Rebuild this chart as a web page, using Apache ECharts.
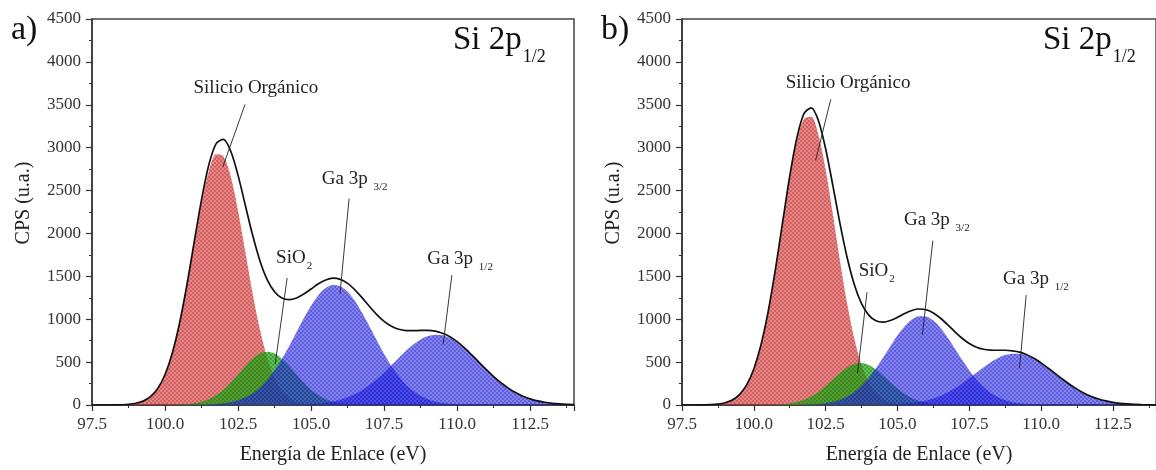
<!DOCTYPE html>
<html>
<head>
<meta charset="utf-8">
<script src="https://cdn.jsdelivr.net/npm/echarts@6/dist/echarts.min.js"></script>
<style>
  html, body { margin: 0; padding: 0; background: #ffffff; }
  #chart { width: 1156px; height: 470px; }
</style>
</head>
<body>
<div id="chart"></div>
<script>
// Binding energy grid (eV) shared by every curve
const energia = [97.5, 97.75, 98.0, 98.25, 98.5, 98.75, 99.0, 99.25, 99.5, 99.75,
  100.0, 100.25, 100.5, 100.75, 101.0, 101.25, 101.5, 101.75, 102.0, 102.25,
  102.5, 102.75, 103.0, 103.25, 103.5, 103.75, 104.0, 104.25, 104.5, 104.75,
  105.0, 105.25, 105.5, 105.75, 106.0, 106.25, 106.5, 106.75, 107.0, 107.25,
  107.5, 107.75, 108.0, 108.25, 108.5, 108.75, 109.0, 109.25, 109.5, 109.75,
  110.0, 110.25, 110.5, 110.75, 111.0, 111.25, 111.5, 111.75, 112.0, 112.25,
  112.5, 112.75, 113.0, 113.25, 113.5, 113.75, 114.0];

// Panel a) fitted components (CPS)
const a_organico = [0, 0, 0, 1, 3, 8, 20, 45, 97, 193,
  355, 605, 955, 1393, 1882, 2354, 2726, 2922, 2899, 2663,
  2265, 1783, 1300, 877, 547, 317, 169, 84, 39, 16,
  6, 2, 1, 0, 0, 0, 0, 0, 0, 0,
  0, 0, 0, 0, 0, 0, 0, 0, 0, 0,
  0, 0, 0, 0, 0, 0, 0, 0, 0, 0,
  0, 0, 0, 0, 0, 0, 0];
const a_sio2 = [0, 0, 0, 0, 0, 0, 0, 0, 0, 0,
  1, 2, 4, 9, 19, 38, 68, 114, 178, 261,
  356, 454, 540, 599, 620, 599, 540, 454, 356, 261,
  178, 114, 68, 38, 19, 9, 4, 2, 1, 0,
  0, 0, 0, 0, 0, 0, 0, 0, 0, 0,
  0, 0, 0, 0, 0, 0, 0, 0, 0, 0,
  0, 0, 0, 0, 0, 0, 0];
const a_ga32 = [0, 0, 0, 0, 0, 0, 0, 0, 0, 0,
  0, 0, 0, 0, 2, 3, 6, 11, 20, 34,
  56, 89, 138, 204, 293, 404, 537, 688, 849, 1010,
  1158, 1280, 1363, 1399, 1383, 1319, 1211, 1072, 914, 752,
  595, 455, 334, 237, 162, 107, 68, 41, 24, 14,
  8, 4, 2, 1, 0, 0, 0, 0, 0, 0,
  0, 0, 0, 0, 0, 0, 0];
const a_ga12 = [0, 0, 0, 0, 0, 0, 0, 0, 0, 0,
  0, 0, 0, 0, 0, 0, 0, 0, 0, 0,
  0, 0, 0, 0, 0, 1, 1, 2, 3, 6,
  10, 17, 26, 41, 62, 90, 127, 175, 233, 302,
  380, 463, 549, 631, 704, 763, 803, 820, 812, 781,
  730, 662, 582, 497, 412, 332, 259, 197, 145, 103,
  72, 48, 32, 20, 12, 7, 4];
const a_envolvente = [0, 0, 0, 1, 3, 8, 20, 45, 97, 193,
  356, 607, 959, 1402, 1903, 2395, 2800, 3047, 3097, 2958,
  2677, 2326, 1978, 1680, 1460, 1321, 1247, 1228, 1247, 1293,
  1352, 1413, 1458, 1478, 1464, 1418, 1342, 1249, 1148, 1054,
  975, 918, 883, 868, 866, 870, 871, 861, 836, 795,
  738, 666, 584, 498, 412, 332, 259, 197, 145, 103,
  72, 48, 32, 20, 12, 7, 4];

// Panel b) fitted components (CPS)
const b_organico = [0, 0, 1, 2, 4, 11, 26, 58, 121, 234,
  419, 701, 1089, 1574, 2116, 2648, 3081, 3336, 3360, 3149,
  2745, 2226, 1680, 1179, 770, 467, 264, 139, 68, 31,
  13, 5, 2, 1, 0, 0, 0, 0, 0, 0,
  0, 0, 0, 0, 0, 0, 0, 0, 0, 0,
  0, 0, 0, 0, 0, 0, 0, 0, 0, 0,
  0, 0, 0, 0, 0, 0, 0];
const b_sio2 = [0, 0, 0, 0, 0, 0, 0, 0, 0, 0,
  0, 1, 2, 4, 9, 18, 34, 60, 99, 153,
  221, 297, 373, 438, 479, 489, 466, 414, 344, 266,
  192, 129, 81, 48, 26, 13, 6, 3, 1, 0,
  0, 0, 0, 0, 0, 0, 0, 0, 0, 0,
  0, 0, 0, 0, 0, 0, 0, 0, 0, 0,
  0, 0, 0, 0, 0, 0, 0];
const b_ga32 = [0, 0, 0, 0, 0, 0, 0, 0, 0, 0,
  0, 0, 0, 0, 0, 1, 1, 3, 6, 12,
  21, 37, 62, 99, 153, 225, 317, 428, 552, 683,
  809, 918, 997, 1036, 1032, 984, 898, 785, 657, 527,
  404, 297, 209, 141, 91, 56, 33, 19, 10, 5,
  3, 1, 1, 0, 0, 0, 0, 0, 0, 0,
  0, 0, 0, 0, 0, 0, 0];
const b_ga12 = [0, 0, 0, 0, 0, 0, 0, 0, 0, 0,
  0, 0, 0, 0, 0, 0, 0, 0, 0, 0,
  0, 0, 0, 0, 0, 0, 1, 1, 3, 5,
  8, 14, 22, 34, 52, 76, 107, 147, 195, 251,
  312, 377, 441, 499, 547, 582, 598, 597, 576, 539,
  488, 428, 364, 300, 239, 185, 138, 100, 70, 48,
  31, 20, 12, 7, 4, 2, 1];
const b_envolvente = [0, 0, 1, 2, 4, 11, 26, 58, 121, 234,
  419, 702, 1091, 1578, 2125, 2667, 3116, 3399, 3465, 3314,
  2987, 2560, 2115, 1716, 1402, 1181, 1048, 982, 967, 985,
  1022, 1066, 1102, 1119, 1110, 1073, 1011, 935, 853, 778,
  716, 674, 650, 640, 638, 638, 631, 616, 586, 544,
  491, 429, 365, 300, 239, 185, 138, 100, 70, 48,
  31, 20, 12, 7, 4, 2, 1];

// Axis ranges
const xMin = 97.5, xMax = 114, xPaso = 2.5;
const yMin = 0, yMax = 4500, yPaso = 500;

// Peak labels with their arrows (data coordinates)
const etiquetas_a = [
  { texto: 'Silicio Orgánico', en: [103.11, 3680], desde: [102.74, 3505], hasta: [101.98, 2776] },
  { texto: 'SiO{s|2}', en: [104.42, 1700], desde: [104.18, 1481], hasta: [103.77, 474] },
  { texto: 'Ga 3p {s|3/2}', en: [106.49, 2614], desde: [106.30, 2406], hasta: [105.99, 1296] },
  { texto: 'Ga 3p {s|1/2}', en: [110.10, 1689], desde: [109.82, 1515], hasta: [109.52, 706] }
];
const etiquetas_b = [
  { texto: 'Silicio Orgánico', en: [103.28, 3738], desde: [102.68, 3565], hasta: [102.15, 2850] },
  { texto: 'SiO{s|2}', en: [104.28, 1546], desde: [103.94, 1315], hasta: [103.61, 369] },
  { texto: 'Ga 3p {s|3/2}', en: [106.37, 2135], desde: [106.23, 1915], hasta: [105.87, 819] },
  { texto: 'Ga 3p {s|1/2}', en: [109.82, 1454], desde: [109.48, 1281], hasta: [109.25, 427] }
];

const SERIF = "'Liberation Serif', 'Times New Roman', serif";

// Small checkered tiles used as area fills
function trama(c1, c2) {
  const cv = document.createElement('canvas');
  cv.width = 4; cv.height = 4;
  const g = cv.getContext('2d');
  g.fillStyle = c1; g.fillRect(0, 0, 2, 2); g.fillRect(2, 2, 2, 2);
  g.fillStyle = c2; g.fillRect(2, 0, 2, 2); g.fillRect(0, 2, 2, 2);
  return { image: cv, repeat: 'repeat' };
}
const rellenoRojo = trama('rgba(200,40,40,0.74)', 'rgba(205,50,50,0.58)');
const rellenoVerde = trama('rgba(20,150,10,0.84)', 'rgba(30,160,20,0.68)');
const rellenoAzul = trama('rgba(25,25,215,0.70)', 'rgba(35,35,220,0.56)');

const pares = ys => energia.map((x, i) => [x, ys[i]]);

const richEtiqueta = {
  m: { fontSize: 19, fontFamily: SERIF, color: '#222', lineHeight: 22, verticalAlign: 'top' },
  s: { fontSize: 11, fontFamily: SERIF, color: '#222', lineHeight: 22, verticalAlign: 'top', padding: [12, 0, 0, 1] }
};

function seriesPanel(gi, comp, envolvente, etiquetas) {
  const area = (nombre, ys, relleno) => ({
    name: nombre, type: 'line', xAxisIndex: gi, yAxisIndex: gi,
    data: pares(ys), smooth: 0.3, showSymbol: false, silent: true,
    lineStyle: { width: 0 }, areaStyle: { color: relleno, opacity: 1 }
  });
  return [
    area('Silicio Orgánico', comp[0], rellenoRojo),
    area('SiO2', comp[1], rellenoVerde),
    area('Ga 3p3/2', comp[2], rellenoAzul),
    area('Ga 3p1/2', comp[3], rellenoAzul),
    {
      name: 'Envolvente', type: 'line', xAxisIndex: gi, yAxisIndex: gi,
      data: pares(envolvente), smooth: 0.3, showSymbol: false, silent: true,
      lineStyle: { color: '#111', width: 1.7 },
      markLine: {
        silent: true, symbol: ['none', 'arrow'], symbolSize: [0, 8],
        lineStyle: { color: '#222', width: 0.9, type: 'solid' },
        label: { show: false },
        data: etiquetas.map(e => [{ coord: e.desde }, { coord: e.hasta }])
      },
      markPoint: {
        silent: true, symbol: 'circle', symbolSize: 0,
        data: etiquetas.map(e => ({
          coord: e.en,
          label: {
            show: true, position: 'inside',
            formatter: e.texto.replace(/^([^{]+)/, '{m|$1}'),
            rich: richEtiqueta
          }
        }))
      }
    }
  ];
}

function ejeX(gi) {
  return {
    gridIndex: gi, type: 'value', min: xMin, max: xMax, interval: xPaso,
    name: 'Energía de Enlace (eV)', nameLocation: 'middle', nameGap: 40,
    nameTextStyle: { fontFamily: SERIF, fontSize: 20, color: '#222' },
    axisLine: { show: true, onZero: false, lineStyle: { color: '#333', width: 1.5 } },
    axisTick: { show: true, inside: false, length: 6, lineStyle: { color: '#333', width: 1.2 } },
    minorTick: { show: true, splitNumber: 2, length: 3, lineStyle: { color: '#333', width: 1 } },
    axisLabel: { fontFamily: SERIF, fontSize: 17, color: '#333', margin: 11, showMaxLabel: false,
      formatter: v => v.toFixed(1) },
    splitLine: { show: false }
  };
}
function ejeY(gi) {
  return {
    gridIndex: gi, type: 'value', min: yMin, max: yMax, interval: yPaso,
    name: 'CPS (u.a.)', nameLocation: 'middle', nameGap: 58,
    nameTextStyle: { fontFamily: SERIF, fontSize: 20, color: '#222', padding: [0, 0, 0, 18] },
    axisLine: { show: true, lineStyle: { color: '#333', width: 1.5 } },
    axisTick: { show: true, inside: false, length: 6, lineStyle: { color: '#333', width: 1.2 } },
    minorTick: { show: true, splitNumber: 2, length: 3, lineStyle: { color: '#333', width: 1 } },
    axisLabel: { fontFamily: SERIF, fontSize: 17, color: '#333', margin: 11,
      formatter: v => String(v) },
    splitLine: { show: false }
  };
}

function titulo(x, letra) {
  return [
    { type: 'text', left: x.letra, top: 13, style: { text: letra, font: '34px ' + SERIF, fill: '#111' } },
    { type: 'text', left: x.titulo, top: 24, style: {
      text: '{m|Si 2p}{s|1/2}', fill: '#111',
      rich: {
        m: { fontSize: 33, fontFamily: SERIF, lineHeight: 38, verticalAlign: 'top' },
        s: { fontSize: 18, fontFamily: SERIF, lineHeight: 38, verticalAlign: 'top', padding: [24, 0, 0, 1] }
      }
    } }
  ];
}

const chart = echarts.init(document.getElementById('chart'), null, { renderer: 'canvas' });
chart.setOption({
  animation: false,
  backgroundColor: '#ffffff',
  grid: [
    { left: 92, top: 19, width: 482, height: 389, show: true, borderColor: '#444', borderWidth: 1.5 },
    { left: 682, top: 19, width: 497, height: 390, show: true, borderColor: '#444', borderWidth: 1.5 }
  ],
  xAxis: [ejeX(0), ejeX(1)],
  yAxis: [ejeY(0), ejeY(1)],
  series: [
    ...seriesPanel(0, [a_organico, a_sio2, a_ga32, a_ga12], a_envolvente, etiquetas_a),
    ...seriesPanel(1, [b_organico, b_sio2, b_ga32, b_ga12], b_envolvente, etiquetas_b)
  ],
  graphic: [
    ...titulo({ letra: 11, titulo: 453 }, 'a)'),
    ...titulo({ letra: 601, titulo: 1043 }, 'b)')
  ]
});
</script>
</body>
</html>
